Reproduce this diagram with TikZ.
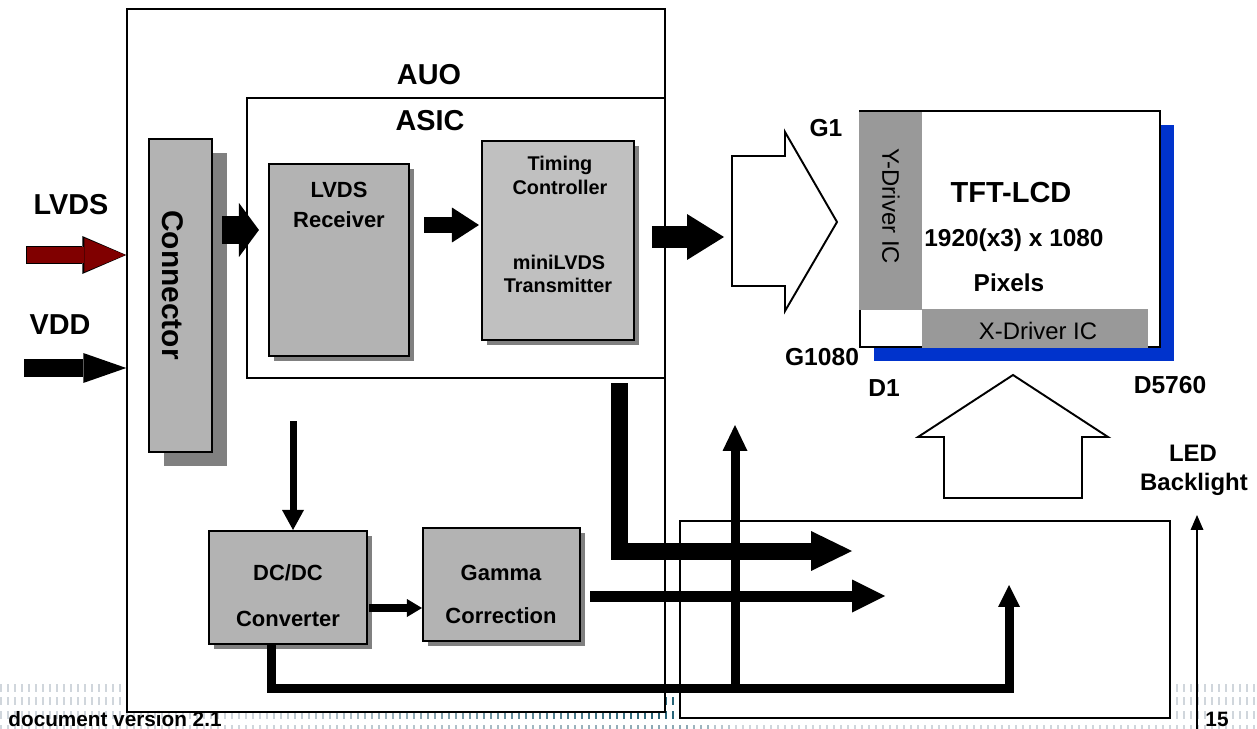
\documentclass[tikz,border=0pt]{standalone}
\usepackage{fontspec}
\setmainfont{Liberation Sans}
\usetikzlibrary{arrows.meta,shadows,calc}
\definecolor{boxgray}{RGB}{179,179,179}
\definecolor{timgray}{RGB}{192,192,192}
\definecolor{shgray}{RGB}{128,128,128}
\definecolor{drvgray}{RGB}{153,153,153}
\definecolor{panelblue}{RGB}{0,51,204}
\definecolor{lvdsred}{RGB}{128,0,0}
\definecolor{footlight}{RGB}{208,214,220}
\definecolor{footdark}{RGB}{40,100,120}
\tikzset{
  frame/.style={draw, line width=0.9pt, fill=white, inner sep=0pt},
  blockbase/.style={draw, line width=1.2pt, fill=boxgray, inner sep=0pt},
  block/.style={blockbase, general shadow={fill=shgray, shadow xshift=0.1cm, shadow yshift=-0.1cm}},
  lbl/.style={inner sep=0pt, font=\bfseries\fontsize{#1}{#1}\selectfont},
  rlbl/.style={inner sep=0pt, font=\fontsize{#1}{#1}\selectfont},
  barrow/.style n args={3}{line width=#1, -{Triangle[length=#2, width=#3, line width=0pt]}, line join=miter},
  hollow/.style={draw, line width=1.1pt, fill=white, line join=miter},
  ticks/.style={line width=#1, dash pattern=on 0.04cm off 0.1cm},
}
\begin{document}
\begin{tikzpicture}[x=0.02cm, y=-0.02cm]
\useasboundingbox (0,0) rectangle (1257,729);
% footer pattern
\foreach \xx in {0,21,...,1260} {
  \pgfmathsetmacro\pp{\xx<=680 ? max(0,min(100,(\xx-250)/4)) : max(0,100-(\xx-680)*2)}
  \pgfmathsetmacro\pq{\pp*0.4}
  \draw[footdark!\pp!footlight, ticks=0.15cm] (\xx,688) -- ++(21,0);
  \draw[footdark!\pp!footlight, ticks=0.15cm] (\xx,701) -- ++(21,0);
  \draw[footdark!\pp!footlight, ticks=0.15cm] (\xx,715) -- ++(21,0);
  \draw[footdark!\pq!footlight, ticks=0.07cm] (\xx,727) -- ++(21,0);
}
% frames
\node[frame, minimum width=10.76cm, minimum height=14.06cm] (auo) at (396,360.5) {};
\node[frame, minimum width=9.8cm, minimum height=3.94cm] (bl) at (925,619.5) {};
\node[frame, minimum width=8.36cm, minimum height=5.6cm] (asic) at (456,238) {};
% blocks
\node[blockbase, minimum width=1.26cm, minimum height=6.26cm,
      general shadow={fill=shgray, shadow xshift=0.3cm, shadow yshift=-0.28cm}] (conn) at (180.5,295.5) {};
\node[block, minimum width=2.8cm, minimum height=3.84cm] (rec) at (339,260) {};
\node[block, fill=timgray, minimum width=3.04cm, minimum height=3.98cm] (tim) at (558,240.5) {};
\node[block, minimum width=3.16cm, minimum height=2.26cm] (dcdc) at (288,587.5) {};
\node[block, minimum width=3.14cm, minimum height=2.26cm] (gam) at (501.5,584.5) {};
% panel
\node[draw, line width=1.2pt, fill=white, inner sep=0pt, minimum width=6cm, minimum height=4.72cm,
      general shadow={fill=panelblue, shadow xshift=0.28cm, shadow yshift=-0.28cm}] (panel) at (1010,229) {};
\node[fill=drvgray, inner sep=0pt, minimum width=1.26cm, minimum height=3.96cm] (ydrv) at (890.5,211) {};
\node[fill=drvgray, inner sep=0pt, minimum width=4.52cm, minimum height=0.78cm] (xdrv) at (1035,328.5) {};
% hollow arrows
\draw[hollow] (732,156) -- (785,156) -- (785,132) -- (837,222) -- (785,311) -- (785,286) -- (732,286) -- cycle;
\coordinate (hin) at (732,237);
\draw[hollow] (1013,375) -- (1108,437) -- (1082,437) -- (1082,498) -- (944,498) -- (944,437) -- (918,437) -- cycle;
% input arrows
\coordinate (lvdsin) at (27,255);
\coordinate (vddin) at (24,368);
\draw[barrow={0.36cm}{0.88cm}{0.76cm}, color=black] ($(lvdsin)+(-1,0)$) -- (lvdsin -| auo.west);
\draw[barrow={0.32cm}{0.82cm}{0.68cm}, color=lvdsred] (lvdsin) -- ($(lvdsin -| auo.west)+(-1,0)$);
\draw[barrow={0.36cm}{0.86cm}{0.60cm}] (vddin) -- (vddin -| auo.west);
% internal arrows
\draw[barrow={0.56cm}{0.40cm}{1.08cm}] ($(conn.east |- 0,230)+(9,0)$) -- ($(rec.west |- 0,230)+(-9,0)$);
\draw[barrow={0.32cm}{0.54cm}{0.70cm}] ($(rec.east |- 0,225)+(14,0)$) -- ($(tim.west |- 0,225)+(-2,0)$);
\draw[barrow={0.44cm}{0.74cm}{0.92cm}] ($(asic.east |- 0,237)+(-14,0)$) -- ($(hin)+(-8,0)$);
\coordinate (asicout) at (619.5,383);
\coordinate (bl1) at (852,551);
\draw[barrow={0.34cm}{0.82cm}{0.80cm}] (asicout) |- (bl1);
\coordinate (bl2) at (885,596);
\draw[barrow={0.22cm}{0.66cm}{0.66cm}] ($(gam.east |- 0,596)+(9,0)$) -- (bl2);
\coordinate (vbot) at (735,688);
\coordinate (vtop) at (735,425);
\draw[barrow={0.18cm}{0.52cm}{0.50cm}] (vbot) -- (vtop);
\coordinate (bl3) at (1009,585);
\draw[barrow={0.18cm}{0.44cm}{0.44cm}] (dcdc.south -| 271.5,0) |- (1009,688.5) -- (bl3);
\draw[barrow={0.14cm}{0.40cm}{0.44cm}] (293,421) -- (dcdc.north -| 293,0);
\draw[barrow={0.16cm}{0.30cm}{0.36cm}] ($(dcdc.east |- 0,608)+(1,0)$) -- (gam.west |- 0,608);
\coordinate (ledbot) at (1197,729);
\coordinate (ledtop) at (1197,515);
\draw[barrow={0.03cm}{0.30cm}{0.26cm}] (ledbot) -- (ledtop);
% labels
\node[lbl=16.4] (tauo) at (429,75) {AUO};
\node[lbl=16.4] (tasic) at (430,121) {ASIC};
\node[lbl=16.4] (tlvds) at (71,205) {LVDS};
\node[lbl=16.4] (tvdd) at (60,325) {VDD};
\node[lbl=17, rotate=-90] (tconn) at (173,285) {Connector};
\node[lbl=12.5] (trec1) at (339,190) {LVDS};
\node[lbl=12.5] (trec2) at (339,220) {Receiver};
\node[lbl=11.3] (ttim1) at (560,165) {Timing};
\node[lbl=11.3] (ttim2) at (560,187) {Controller};
\node[lbl=11.3] (ttim3) at (559,262) {miniLVDS};
\node[lbl=11.3] (ttim4) at (558,285) {Transmitter};
\node[lbl=12.5] (tdc1) at (288,573) {DC/DC};
\node[lbl=12.5] (tdc2) at (288,619) {Converter};
\node[lbl=12.5] (tgam1) at (501,573) {Gamma};
\node[lbl=12.5] (tgam2) at (501,616) {Correction};
\node[lbl=14] (tg1) at (826,128) {G1};
\node[lbl=14] (tg1080) at (822,357) {G1080};
\node[lbl=14] (td1) at (884,388) {D1};
\node[lbl=14] (td5760) at (1170,385) {D5760};
\node[lbl=16.5] (ttft) at (1011,193) {TFT-LCD};
\node[lbl=13.9] (tres) at (1014,240) {1920(x3) x 1080};
\node[lbl=13.9] (tpix) at (1009,283) {Pixels};
\node[rlbl=13.6, rotate=-90] (tydrv) at (891,206) {Y-Driver IC};
\node[rlbl=13.6] (txdrv) at (1038,331) {X-Driver IC};
\node[lbl=13.6] (tled1) at (1193,453) {LED};
\node[lbl=13.6] (tled2) at (1194,484) {Backlight};
\node[lbl=11.8] (tdoc) at (115,719) {document version 2.1};
\node[lbl=11.8] (tpage) at (1217,719) {15};
\end{tikzpicture}
\end{document}
